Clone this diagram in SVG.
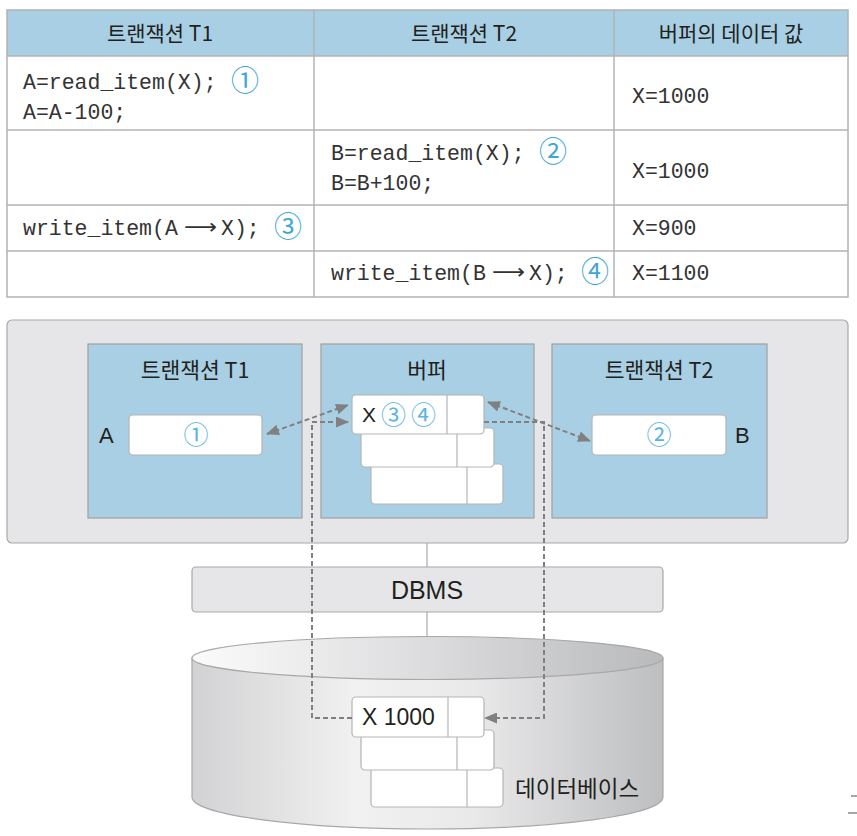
<svg xmlns="http://www.w3.org/2000/svg" width="857" height="836" viewBox="0 0 857 836">
<style>
.hd{font-family:"Noto Sans CJK KR","Liberation Sans",sans-serif;font-size:21px;fill:#231f20;text-anchor:middle}
.mono{font-family:"Liberation Mono","DejaVu Sans Mono",monospace;font-size:21.5px;fill:#333}
.arr{font-family:"DejaVu Sans",sans-serif;font-size:21px;fill:#333}
.circ{font-family:"Noto Sans CJK KR",sans-serif;font-size:28px;fill:#3fa6d6}
.circ2{font-family:"Noto Sans CJK KR",sans-serif;font-size:25px;fill:#5ab5e2}
.lbl{font-family:"Liberation Sans","Noto Sans CJK KR",sans-serif;fill:#231f20}
.kr{font-family:"Noto Sans CJK KR","Liberation Sans",sans-serif;fill:#231f20}
.grid{stroke:#b3b3b3;stroke-width:1.5;fill:none}
.blue{fill:#a8cfe3;stroke:#a0a0a0;stroke-width:1.2}
.rec{fill:#fff;stroke:#b5b5b5;stroke-width:1.2}
.div{stroke:#b5b5b5;stroke-width:1.2}
.dash{stroke:#808080;stroke-width:2;stroke-dasharray:5 3;fill:none}
.solid{stroke:#a8a8a8;stroke-width:1.2}
</style>
<defs>
<marker id="ah" markerUnits="userSpaceOnUse" markerWidth="13" markerHeight="11" viewBox="0 0 13 11" refX="12" refY="5.5" orient="auto-start-reverse">
<path d="M0,0 L13,5.5 L0,11 z" fill="#808080"/>
</marker>
<linearGradient id="body" x1="0" y1="0" x2="1" y2="0">
<stop offset="0" stop-color="#d2d2d4"/>
<stop offset="0.35" stop-color="#f1f1f1"/>
<stop offset="0.6" stop-color="#e9e9ea"/>
<stop offset="1" stop-color="#bdbec0"/>
</linearGradient>
<linearGradient id="top" x1="0" y1="0" x2="1" y2="0">
<stop offset="0" stop-color="#fbfbfb"/>
<stop offset="0.5" stop-color="#dcdcde"/>
<stop offset="1" stop-color="#b9babc"/>
</linearGradient>
</defs>

<g id="table">
<rect x="7" y="10" width="841" height="46" fill="#a8cfe3"/>
<rect x="7" y="10" width="841" height="287" class="grid"/>
<line x1="7" y1="56" x2="848" y2="56" class="grid"/>
<line x1="7" y1="130" x2="848" y2="130" class="grid"/>
<line x1="7" y1="205" x2="848" y2="205" class="grid"/>
<line x1="7" y1="251" x2="848" y2="251" class="grid"/>
<line x1="314" y1="10" x2="314" y2="297" class="grid"/>
<line x1="614" y1="10" x2="614" y2="297" class="grid"/>
<text class="hd" x="160" y="41">트랜잭션 T1</text>
<text class="hd" x="464" y="41">트랜잭션 T2</text>
<text class="hd" x="731" y="41">버퍼의 데이터 값</text>
<text class="mono" x="23" y="89">A=read_item(X);</text>
<text class="circ" x="231" y="91">①</text>
<text class="mono" x="23" y="119">A=A-100;</text>
<text class="mono" x="632" y="103">X=1000</text>
<text class="mono" x="331" y="160">B=read_item(X);</text>
<text class="circ" x="539" y="162">②</text>
<text class="mono" x="331" y="190">B=B+100;</text>
<text class="mono" x="632" y="178">X=1000</text>
<text class="mono" x="23" y="235">write_item(A</text>
<text class="arr" x="184" y="234" textLength="33" lengthAdjust="spacingAndGlyphs">⟶</text>
<text class="mono" x="221" y="235">X);</text>
<text class="circ" x="274" y="237">③</text>
<text class="mono" x="632" y="235">X=900</text>
<text class="mono" x="331" y="280">write_item(B</text>
<text class="arr" x="492" y="279" textLength="33" lengthAdjust="spacingAndGlyphs">⟶</text>
<text class="mono" x="529" y="280">X);</text>
<text class="circ" x="581" y="282">④</text>
<text class="mono" x="632" y="280">X=1100</text>
</g>

<g id="panel">
<rect x="7" y="320" width="841" height="223" rx="5" fill="#e6e6e8" stroke="#a8a8a8" stroke-width="1.2"/>
</g>

<g id="t1">
<rect x="88" y="344" width="214" height="174" class="blue"/>
<text class="kr" x="195" y="378" font-size="21.5" text-anchor="middle">트랜잭션 T1</text>
<text class="lbl" x="99" y="443" font-size="22">A</text>
<rect x="129" y="415" width="133" height="40" rx="4" class="rec"/>
<text class="circ2" x="196" y="444" text-anchor="middle">①</text>
</g>

<g id="buffer">
<rect x="321" y="344" width="213" height="174" class="blue"/>
<text class="kr" x="427" y="378" font-size="21.5" text-anchor="middle">버퍼</text>
<rect x="371" y="464" width="132" height="40" rx="4" class="rec"/>
<line x1="467" y1="464" x2="467" y2="504" class="div"/>
<rect x="361" y="428" width="133" height="39" rx="4" class="rec"/>
<line x1="457" y1="428" x2="457" y2="467" class="div"/>
<rect x="352" y="395" width="132" height="39" rx="4" class="rec"/>
<line x1="447" y1="395" x2="447" y2="434" class="div"/>
<text class="lbl" x="362" y="422" font-size="21" fill="#444">X</text>
<text class="circ2" x="381" y="424" font-size="23">③</text>
<text class="circ2" x="411" y="424" font-size="23">④</text>
</g>

<g id="t2">
<rect x="552" y="344" width="215" height="174" class="blue"/>
<text class="kr" x="659" y="378" font-size="21.5" text-anchor="middle">트랜잭션 T2</text>
<rect x="592" y="415" width="134" height="40" rx="4" class="rec"/>
<text class="circ2" x="659" y="444" text-anchor="middle">②</text>
<text class="lbl" x="735" y="443" font-size="22">B</text>
</g>

<g id="dbms">
<rect x="192" y="567" width="471" height="45" rx="4" fill="#e6e6e8" stroke="#a8a8a8" stroke-width="1.2"/>
<text class="lbl" x="427" y="599" font-size="25" text-anchor="middle">DBMS</text>
</g>

<g id="database">
<path d="M192,658 V797 A235.5,32 0 0 0 663,797 V658 Z" fill="url(#body)" stroke="#a8a8a8" stroke-width="1.2"/>
<ellipse cx="427.5" cy="658" rx="235.5" ry="21.5" fill="url(#top)" stroke="#a8a8a8" stroke-width="1.2"/>
<rect x="371" y="768" width="132" height="39" rx="4" class="rec"/>
<line x1="467" y1="768" x2="467" y2="807" class="div"/>
<rect x="361" y="730" width="133" height="40" rx="4" class="rec"/>
<line x1="457" y1="730" x2="457" y2="770" class="div"/>
<rect x="352" y="697" width="132" height="40" rx="4" class="rec"/>
<line x1="448" y1="697" x2="448" y2="737" class="div"/>
<text class="lbl" x="362" y="725" font-size="23" fill="#555">X 1000</text>
<text class="kr" x="515" y="797" font-size="22.5">데이터베이스</text>
</g>

<g id="connectors">
<line x1="427" y1="543" x2="427" y2="567" class="solid"/>
<line x1="427" y1="612" x2="427" y2="637" class="solid"/>
<line x1="267" y1="434" x2="348" y2="405" class="dash" marker-start="url(#ah)" marker-end="url(#ah)"/>
<line x1="488" y1="402" x2="590" y2="441" class="dash" marker-start="url(#ah)" marker-end="url(#ah)"/>
<path d="M352,718 H312 V422 H348" class="dash" marker-end="url(#ah)"/>
<path d="M484,422 H544 V718 H485" class="dash" marker-end="url(#ah)"/>
</g>

<g id="marks">
<line x1="851" y1="796" x2="857" y2="796" stroke="#888" stroke-width="1.5"/>
<line x1="848" y1="813" x2="857" y2="813" stroke="#888" stroke-width="1.5"/>
</g>
</svg>
